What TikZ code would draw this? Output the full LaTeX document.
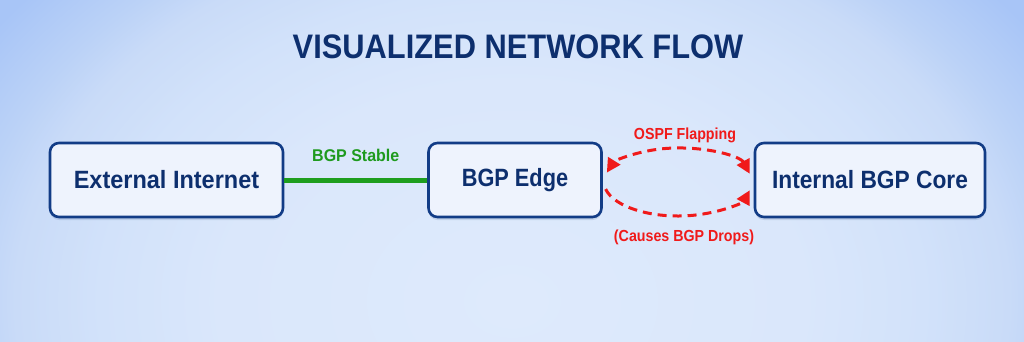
\documentclass[tikz,border=0pt]{standalone}
\usepackage{fontspec}
\usepackage{graphicx}
\setmainfont{Liberation Sans}
\usetikzlibrary{arrows.meta,calc,shadows}
\definecolor{navy}{HTML}{0D2F6E}
\definecolor{boxborder}{HTML}{123C86}
\definecolor{boxfill}{HTML}{EEF3FD}
\definecolor{gline}{HTML}{1E9E1E}
\definecolor{gtext}{HTML}{1E9A1E}
\definecolor{rflap}{HTML}{F01A1A}
\definecolor{bgA}{HTML}{DEEAFC}
\definecolor{bgB}{HTML}{DAE7FB}
\definecolor{bgC}{HTML}{D2E2FA}
\definecolor{bgD}{HTML}{C9DBF8}
\definecolor{bgE}{HTML}{BBD2F7}
\definecolor{bgF}{HTML}{A8C5F7}
\pgfdeclareradialshading{bgglow}{\pgfpoint{0bp}{0bp}}{color(0bp)=(bgA); color(290bp)=(bgB); color(410bp)=(bgC); color(495bp)=(bgD); color(545bp)=(bgE); color(630bp)=(bgF); color(700bp)=(bgF)}
\newcommand{\squeeze}[2]{\scalebox{#1}[1]{#2}}
\tikzset{
  netbox/.style={draw=boxborder, line width=2.6pt, fill=boxfill, rounded corners=9pt,
    minimum height=74pt, inner sep=0pt, text=navy,
    drop shadow={shadow xshift=0pt, shadow yshift=-3pt, opacity=0.12, fill=navy},
    font=\fontsize{25}{29}\selectfont\bfseries},
  flaptip/.tip={Triangle[length=14pt,width=14pt]},
  flap/.style={draw=rflap, line width=3pt, dash pattern=on 9pt off 6pt, -flaptip},
  redlabel/.style={text=rflap, font=\fontsize{16}{19}\selectfont\bfseries},
}
\begin{document}
\begin{tikzpicture}[x=1pt,y=1pt]
\useasboundingbox (0,0) rectangle (1024,341);
\begin{scope}
\clip (0,0) rectangle (1024,341);
\node[inner sep=0pt, outer sep=0pt] (bg) at (512,40) {\scalebox{1}[0.75]{\pgfuseshading{bgglow}}};
\end{scope}
\node[text=navy, font=\fontsize{34}{38}\selectfont\bfseries] (title) at (518,294) {\squeeze{0.907}{VISUALIZED NETWORK FLOW}};
\node[netbox, minimum width=233pt] (ext) at (166.5,161) {\squeeze{0.94}{External Internet}};
\node[netbox, minimum width=173pt] (edge) at (515,161) {\squeeze{0.87}{BGP Edge}};
\node[netbox, minimum width=230pt] (core) at (870,161) {\squeeze{0.91}{Internal BGP Core}};
\draw[gline, line width=5pt] (ext.east) -- node[above=13pt, text=gtext, font=\fontsize{17}{20}\selectfont\bfseries] (stable) {\squeeze{0.94}{BGP Stable}} (edge.west);
\coordinate (ec) at (678,159);
\draw[flap, flaptip-flaptip] ([shift={(14:74 and 34)}]ec) arc[start angle=14, end angle=164, x radius=74, y radius=34];
\draw[flap] ([shift={(192:74 and 34)}]ec) arc[start angle=192, end angle=346, x radius=74, y radius=34];
\node[redlabel] (ospf) at (685,206) {\squeeze{0.89}{OSPF Flapping}};
\node[redlabel] (drops) at (684,104) {\squeeze{0.89}{(Causes BGP Drops)}};
\end{tikzpicture}
\end{document}
